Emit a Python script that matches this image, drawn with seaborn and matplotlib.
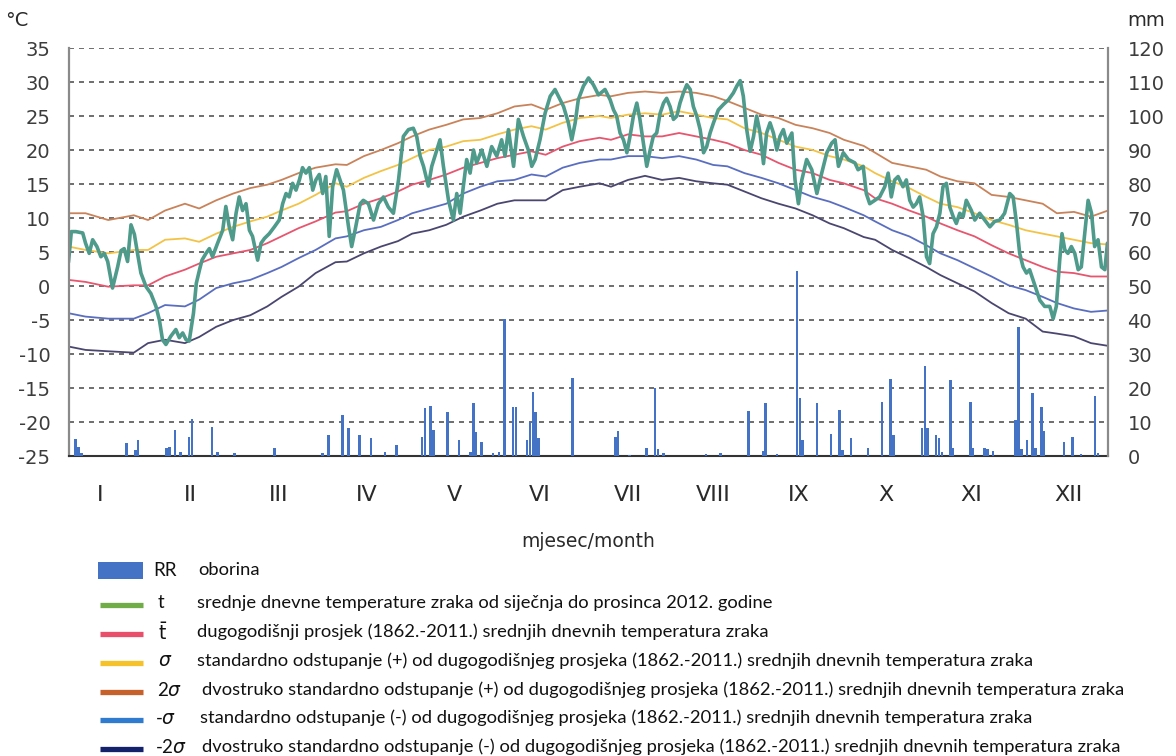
import numpy as np
import pandas as pd
import seaborn as sns
import matplotlib.pyplot as plt
from matplotlib.patches import Rectangle
from matplotlib.lines import Line2D

# ---- data (x = day of year 2012, 0..366) ----
months = ['I', 'II', 'III', 'IV', 'V', 'VI', 'VII', 'VIII', 'IX', 'X', 'XI', 'XII']
month_pos = [11, 43, 74, 105, 136, 166, 197, 227, 257, 288, 318, 352]

# daily mean air temperature 2012 (t)
t_days = [0, 1, 2.6, 5, 6, 7.3, 8.5, 10, 11.4, 12.6, 13.8, 15.5, 17.3, 18.5, 19.6, 20.8, 22, 23.2,
          24.3, 25.5, 27.3, 29, 30.8, 32, 33.1, 34.3, 36, 37.8, 39, 40.2, 41.4, 42.5, 44, 45, 46.2,
          47, 48.4, 49.6, 50.7, 52.5, 54.3, 55.4, 56.6, 57.8, 59, 60.1, 61.3, 62.5, 63.7, 64.8,
          66.6, 67.8, 69, 70.7, 72.5, 74.2, 75.4, 76.6, 77.7, 78.9, 80.1, 81.3, 82.4, 83.6, 84.8,
          86, 87.1, 88.3, 89.5, 90.6, 91.8, 93, 94.4, 96.8, 98.6, 99.7, 100.9, 102.7, 103.8, 105.6,
          107.4, 109.1, 110.9, 112.6, 114.4, 116.2, 117.9, 119.7, 121.4, 122.6, 123.8, 125, 126.7,
          127.9, 129.7, 130.8, 132, 133.8, 135.5, 136.7, 137.9, 139, 140.2, 141.4, 142.6, 143.7,
          145.5, 147.3, 149, 150.8, 152.5, 153.7, 154.9, 156.7, 158.4, 160.2, 161.9, 163.1, 164.3,
          166, 167.8, 169.6, 171.3, 172.5, 174.3, 176, 177.2, 178.4, 179.5, 181.3, 183.1, 184.8,
          186.6, 188.9, 190.7, 191.9, 193, 194.2, 195.4, 196.6, 197.7, 198.9, 200.1, 201.2, 202.4,
          203.6, 204.8, 205.9, 207.1, 208.3, 209.5, 210.6, 211.8, 213, 214.2, 215.3, 216.5, 217.7,
          218.9, 220, 221.2, 222.4, 223.6, 224.7, 225.9, 227.1, 228.8, 230.6, 232.4, 234.1, 235.3,
          236.5, 237.6, 238.8, 240, 241.2, 242.3, 243.5, 244.7, 245.8, 247, 248.2, 249.4, 250.5,
          251.7, 252.9, 254.7, 255.8, 257, 258.2, 259.9, 261.7, 263.5, 265.2, 267, 268.7, 269.9,
          271.1, 272.8, 274.6, 276.9, 278, 279.8, 280.9, 282.1, 283.9, 285.6, 287.4, 288.6, 289.7,
          290.9, 292.1, 293.8, 295, 296.2, 297.4, 298.5, 299.7, 300.9, 302.1, 303.2, 304.4, 305.6,
          306.8, 307.9, 309.1, 310.3, 311.5, 312.6, 313.8, 315, 316.1, 317.9, 319.1, 320.8, 322.6,
          324.4, 326.1, 327.9, 329.6, 331.4, 332.6, 333.8, 334.9, 336.1, 337.3, 338.4, 339.6, 340.8,
          342, 343.7, 345.5, 346.7, 347.8, 349, 349.8, 350.8, 351.9, 353.1, 354.3, 355.5, 356.6,
          357.8, 359, 360.2, 361.3, 362.5, 363.7, 364.9, 365.8]
t_vals = [3.5, 8.0, 8.0, 7.8, 6.3, 4.8, 6.8, 5.8, 4.3, 4.8, 3.6, -0.3, 2.8, 5.2, 5.5, 3.6, 9.0, 7.6,
          4.8, 1.9, -0.1, -1.1, -3.0, -5.0, -7.9, -8.6, -7.4, -6.4, -7.6, -6.9, -7.9, -8.1, -4.0, 0.4, 2.5,
          3.8, 4.8, 5.5, 4.3, 6.3, 8.2, 11.7, 8.7, 6.8, 10.7, 13.1, 11.1, 12.1, 8.2, 7.3,
          3.8, 6.3, 7.0, 7.7, 8.7, 9.7, 12.1, 13.6, 13.1, 15.1, 14.1, 15.6, 17.4, 16.6, 17.4,
          14.1, 15.6, 16.4, 13.6, 16.1, 7.3, 14.6, 17.1, 14.1, 8.7, 5.8, 8.2, 12.1, 12.6, 12.1,
          9.7, 12.1, 13.1, 11.6, 10.7, 15.6, 22.0, 23.0, 23.2, 22.0, 19.1, 17.6, 14.7,
          17.6, 20.0, 21.5, 17.6, 12.6, 9.7, 13.6, 10.7, 14.6, 18.6, 16.6, 20.0, 18.1,
          20.0, 17.6, 20.5, 19.1, 21.5, 19.1, 23.0, 17.6, 24.5, 22.0, 20.0, 17.6, 18.6,
          21.5, 25.4, 27.9, 28.9, 27.9, 26.4, 24.0, 21.5, 24.0, 27.4, 29.4, 30.6, 29.6,
          28.1, 28.9, 27.4, 25.9, 25.0, 22.5, 21.5, 19.6, 22.0, 25.0, 26.9, 24.5, 21.0,
          17.6, 20.0, 22.0, 22.5, 25.4, 26.9, 27.6, 26.4, 24.5, 25.0, 26.9, 28.4, 29.6,
          28.9, 26.4, 25.0, 23.0, 19.6, 20.5, 22.5, 24.0, 25.9, 26.7, 27.4, 28.4, 29.4,
          30.2, 27.9, 23.0, 19.8, 22.0, 25.0, 22.5, 18.0, 22.5, 24.0, 22.5, 20.0, 22.0,
          23.0, 21.0, 22.5, 15.6, 12.1, 15.6, 18.6, 17.1, 13.6, 16.6, 19.6, 21.0, 21.5,
          17.6, 19.6, 18.6, 18.1, 17.1, 17.6, 13.6, 12.1, 12.6, 13.1, 14.6, 16.6, 13.1,
          15.6, 16.1, 14.6, 15.6, 12.6, 11.6, 12.1, 13.1, 10.2, 4.3, 3.3, 7.7, 8.7,
          10.7, 14.6, 15.1, 11.6, 10.2, 9.2, 10.7, 10.2, 12.6, 11.1, 9.7, 10.7, 9.7,
          8.7, 9.5, 9.7, 10.7, 13.6, 13.1, 9.2, 4.8, 2.8, 1.9, 2.4, 0.9, -0.6,
          -2.1, -3.0, -3.0, -4.8, -3.0, 3.8, 7.7, 5.3, 4.8, 5.8, 4.8, 2.4, 2.8,
          7.7, 12.6, 10.7, 5.8, 6.8, 2.8, 2.4, 6.3]

# long-term (1862-2011) mean and +-sigma, +-2sigma curves
clim_days = [0, 6, 14, 23, 28, 34, 41, 46, 52, 58, 64, 70, 75, 81, 87, 94, 98, 104, 110, 116, 121,
             127, 133, 139, 145, 151, 157, 163, 168, 174, 180, 187, 191, 197, 203, 209, 215, 221,
             227, 232, 238, 244, 250, 256, 262, 268, 273, 280, 284, 290, 296, 302, 307, 313, 319,
             325, 331, 337, 343, 348, 354, 360, 366]
t_mean = [0.9, 0.6, -0.1, 0.1, 0.1, 1.4, 2.4, 3.3, 4.3, 4.8, 5.3, 6.3, 7.3, 8.5, 9.5, 10.8, 11.0,
          12.1, 12.9, 13.9, 14.9, 15.6, 16.4, 17.4, 18.1, 18.8, 19.3, 19.8, 19.3, 20.5, 21.3, 21.8,
          21.5, 22.3, 22.0, 22.0, 22.5, 22.0, 21.5, 21.0, 20.0, 19.3, 18.1, 17.1, 16.6, 15.6, 15.1,
          14.1, 12.9, 12.1, 11.1, 10.2, 9.2, 8.2, 7.3, 6.0, 4.8, 3.8, 2.8, 2.1, 1.9, 1.4, 1.4]
t_p1 = [5.8, 5.3, 4.8, 5.3, 5.3, 6.8, 7.0, 6.5, 7.7, 8.7, 9.5, 10.2, 11.1, 12.1, 13.4, 15.1, 14.6,
        15.9, 16.9, 17.8, 18.8, 20.0, 20.5, 21.3, 21.5, 22.3, 23.0, 23.5, 23.0, 24.0, 24.7, 25.0,
        24.7, 25.2, 25.4, 25.2, 25.7, 25.2, 24.7, 24.5, 23.2, 22.5, 21.5, 20.5, 20.0, 19.1, 18.6,
        17.6, 16.6, 15.4, 14.4, 13.1, 12.1, 11.6, 10.7, 9.7, 9.0, 8.2, 7.7, 7.3, 6.8, 6.3, 6.1]
t_p2 = [10.7, 10.7, 9.7, 10.4, 9.7, 11.1, 12.1, 11.4, 12.6, 13.6, 14.4, 14.9, 15.6, 16.6, 17.4,
        17.9, 17.8, 19.1, 20.0, 21.0, 22.0, 23.0, 23.7, 24.5, 24.7, 25.4, 26.4, 26.7, 25.9, 26.9,
        27.6, 28.1, 27.9, 28.4, 28.6, 28.4, 28.6, 28.4, 27.9, 27.2, 26.2, 25.2, 24.7, 23.7, 23.2,
        22.5, 21.5, 20.6, 19.6, 18.1, 17.6, 17.1, 16.1, 15.4, 15.1, 13.4, 13.1, 12.6, 12.1, 10.7,
        10.9, 10.2, 11.1]
t_m1 = [-4.0, -4.5, -4.8, -4.8, -4.0, -2.8, -3.0, -2.0, -0.3, 0.4, 0.9, 1.9, 2.8, 4.1, 5.3, 7.0,
        7.3, 8.2, 8.7, 9.7, 10.7, 11.4, 12.1, 13.6, 14.6, 15.4, 15.6, 16.4, 16.1, 17.4, 18.1, 18.6,
        18.6, 19.1, 19.1, 18.8, 19.1, 18.6, 17.8, 17.6, 16.6, 15.9, 15.1, 14.1, 13.1, 12.4, 11.6,
        10.4, 9.5, 8.2, 7.3, 6.0, 4.8, 3.8, 2.6, 1.4, 0.1, -0.6, -1.6, -2.5, -3.3, -3.8, -3.6]
t_m2 = [-8.9, -9.4, -9.6, -9.8, -8.4, -7.9, -8.4, -7.5, -6.0, -5.0, -4.3, -3.0, -1.6, -0.1, 1.9,
        3.5, 3.6, 4.8, 5.8, 6.6, 7.7, 8.2, 9.0, 10.2, 11.1, 12.1, 12.6, 12.6, 12.6, 14.1, 14.6, 15.1,
        14.6, 15.6, 16.2, 15.6, 15.9, 15.4, 15.1, 14.9, 13.9, 12.9, 12.1, 11.4, 10.4, 9.2, 8.5,
        7.2, 6.8, 5.3, 4.1, 2.8, 1.6, 0.4, -0.8, -2.5, -4.0, -4.8, -6.7, -7.0, -7.4, -8.4, -8.8]

# daily precipitation RR (mm), day of year
rr_doy = [3, 4, 5, 21, 24, 25, 35, 36, 38, 40, 43, 44, 51, 53, 59, 73, 90, 92, 97, 99, 103, 107,
          112, 116, 125, 126, 128, 129, 134, 138, 142, 143, 144, 146, 150, 152, 154, 157, 158, 162,
          163, 164, 165, 166, 178, 193, 194, 198, 204, 207, 208, 210, 225, 230, 240, 245, 246, 250,
          257, 258, 259, 264, 269, 272, 273, 276, 282, 287, 290, 291, 301, 302, 303, 306, 307, 308,
          311, 312, 318, 319, 323, 324, 326, 334, 335, 336, 338, 340, 341, 343, 344, 351, 354, 357,
          362, 363]
rr_mm = [5.0, 2.7, 0.8, 3.7, 1.8, 4.7, 2.5, 2.7, 7.6, 1.3, 5.7, 10.8, 8.6, 1.3, 0.8, 2.5, 1.0, 6.2,
         12.1, 8.1, 6.2, 5.2, 1.3, 3.3, 5.7, 14.0, 14.7, 7.6, 13.0, 4.7, 1.3, 15.5, 7.2, 4.2, 0.8,
         1.3, 40.2, 14.5, 14.5, 4.7, 10.1, 18.9, 13.0, 5.2, 22.8, 5.5, 7.5, 0.3, 2.3, 19.9, 2.0,
         1.0, 0.5, 1.0, 13.3, 1.6, 15.7, 0.5, 54.5, 17.0, 4.7, 15.7, 6.4, 13.5, 1.8, 5.4, 2.5, 15.8,
         22.7, 6.2, 8.1, 26.5, 8.1, 6.2, 5.2, 1.3, 22.5, 2.3, 16.0, 2.3, 2.5, 2.0, 1.6, 10.6, 37.8,
         2.0, 4.7, 18.6, 2.3, 14.5, 7.5, 4.2, 5.5, 0.5, 17.6, 0.8]

legend_symbols = ['RR', 't', r'$\bar{\mathrm{t}}$', r'$\sigma$', r'2$\sigma$', r'-$\sigma$', r'-2$\sigma$']
legend_texts = [
    'oborina',
    'srednje dnevne temperature zraka od siječnja do prosinca 2012. godine',
    'dugogodišnji prosjek (1862.-2011.) srednjih dnevnih temperatura zraka',
    'standardno odstupanje (+) od dugogodišnjeg prosjeka (1862.-2011.) srednjih dnevnih temperatura zraka',
    'dvostruko standardno odstupanje (+) od dugogodišnjeg prosjeka (1862.-2011.) srednjih dnevnih temperatura zraka',
    'standardno odstupanje (-) od dugogodišnjeg prosjeka (1862.-2011.) srednjih dnevnih temperatura zraka',
    'dvostruko standardno odstupanje (-) od dugogodišnjeg prosjeka (1862.-2011.) srednjih dnevnih temperatura zraka',
]

# ---- styling ----
sns.set_style('white')
plt.rcParams['font.family'] = ['DejaVu Sans']
plt.rcParams['axes.unicode_minus'] = False

W, H = 1176, 756
fig = plt.figure(figsize=(W / 100, H / 100), dpi=100)


def fx(px):
    return px / W


def fy(py):
    return 1 - py / H


ax = fig.add_axes([fx(68.5), fy(456), (1108 - 68.5) / W, (456 - 48) / H])
ax2 = ax.twinx()

line_styles = [
    (t_p2, '#c9835a'),
    (t_p1, '#f2c346'),
    (t_mean, '#e6566f'),
    (t_m1, '#5a6ec0'),
    (t_m2, '#4b4670'),
]
for vals, col in line_styles:
    sns.lineplot(x=clim_days, y=vals, ax=ax, color=col, linewidth=1.3, estimator=None, sort=False)
sns.lineplot(x=t_days, y=t_vals, ax=ax, color='#4e9a8b', linewidth=2.6, estimator=None, sort=False)

rr = pd.DataFrame({'day': np.array(rr_doy, dtype=float) - 0.5, 'mm': rr_mm})
sns.histplot(data=rr, x='day', weights='mm', binwidth=1, binrange=(0, 366), ax=ax2,
             color='#4472c4', alpha=1, edgecolor='none', linewidth=0, shrink=0.9)

ax.set_xlim(0, 366)
ax.set_ylim(-25, 35)
ax.set_yticks(np.arange(-25, 36, 5))
ax2.set_ylim(0, 120)
ax2.set_yticks(np.arange(0, 121, 10))
ax2.set_xlim(0, 366)

ax.yaxis.grid(True, linestyle=(0, (3, 3)), color='#555555', linewidth=1.2)
ax.xaxis.grid(False)
ax.set_axisbelow(True)

ax.set_xticks(month_pos)
ax.set_xticklabels(months)
ax.tick_params(axis='x', length=0, pad=21, labelsize=16, labelcolor='#2a2a2a')
ax.tick_params(axis='y', length=0, pad=13, labelsize=14, labelcolor='#3c3c3c')
ax2.tick_params(axis='y', length=0, pad=14, labelsize=14, labelcolor='#3c3c3c')
ax.set_ylabel('')
ax2.set_ylabel('')
ax2.set_xlabel('')
ax.set_xlabel('mjesec/month', fontsize=13.5, color='#2a2a2a', labelpad=19)

for s in ['top', 'right']:
    ax.spines[s].set_visible(False)
for s in ['top', 'left', 'bottom']:
    ax2.spines[s].set_visible(False)
ax.spines['left'].set_color('#8a8a8a')
ax.spines['left'].set_linewidth(1.6)
ax2.spines['right'].set_color('#8a8a8a')
ax2.spines['right'].set_linewidth(1.6)
ax.spines['bottom'].set_color('#333333')
ax.spines['bottom'].set_linewidth(1.5)

fig.text(fx(5), fy(20), '°C', fontsize=14, color='#2a2a2a', va='center', ha='left')
fig.text(fx(1127), fy(20), 'mm', fontsize=14, color='#2a2a2a', va='center', ha='left')

# ---- legend ----
row_y = [570, 603, 632, 661, 690, 718, 747]
leg_colors = ['#4472c4', '#70ad47', '#e94f6b', '#f6c22b', '#c6612b', '#2e7bcf', '#14216b']
sym_x = [153, 158, 158, 158, 157, 155, 155]
txt_x = [198, 197, 197, 197, 202, 200, 202]
for i in range(7):
    y = row_y[i]
    if i == 0:
        fig.add_artist(Rectangle((fx(98), fy(y + 9)), (143 - 98) / W, 17 / H,
                                 transform=fig.transFigure, color=leg_colors[i], lw=0))
    else:
        fig.add_artist(Line2D([fx(100), fx(143)], [fy(y + 2), fy(y + 2)],
                              transform=fig.transFigure, color=leg_colors[i], lw=3.8,
                              solid_capstyle='butt'))
    fig.text(fx(sym_x[i]), fy(y), legend_symbols[i], fontsize=13.5, family=['Lato', 'DejaVu Sans'],
             va='center', ha='left', color='#111111')
    fig.text(fx(txt_x[i]), fy(y), legend_texts[i], fontsize=13.25, family=['Lato', 'DejaVu Sans'],
             va='center', ha='left', color='#111111')

fig.savefig('out.png', dpi=100)
